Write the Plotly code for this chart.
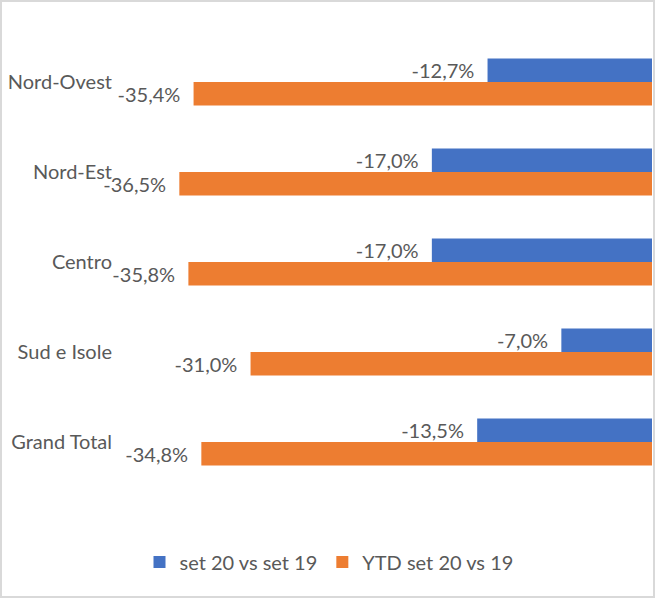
import plotly.graph_objects as go

categories = ["Nord-Ovest", "Nord-Est", "Centro", "Sud e Isole", "Grand Total"]
set20_vs_set19 = [-12.7, -17.0, -17.0, -7.0, -13.5]
ytd_set20_vs_19 = [-35.4, -36.5, -35.8, -31.0, -34.8]
series_names = ["set 20 vs set 19", "YTD set 20 vs 19"]
colors = ["#4472C4", "#ED7D31"]

TEXT = "#595959"
FONT = "Lato"
NB = "\u00a0"


def labels(vals):
    return [f"{v:.1f}%".replace(".", ",") + NB * 2 for v in vals]


fig = go.Figure()
for name, vals, col in zip(series_names, [set20_vs_set19, ytd_set20_vs_19], colors):
    fig.add_trace(go.Bar(
        y=categories, x=vals, name=name, orientation="h",
        marker=dict(color=col, line=dict(width=0)),
        text=labels(vals), textposition="outside", constraintext="none",
        cliponaxis=False,
        textfont=dict(family=FONT, size=20, color=TEXT),
        hoverinfo="skip",
    ))

L, R, T, B = 118, 4, 37, 113
W, H = 656, 600
pw, ph = W - L - R, H - T - B
px_per_unit = 12.95

fig.update_layout(
    width=W, height=H,
    margin=dict(l=L, r=R, t=T, b=B, pad=0),
    paper_bgcolor="white", plot_bgcolor="white",
    barmode="group", bargap=0.478, bargroupgap=0,
    font=dict(family=FONT, size=20, color=TEXT),
    showlegend=True,
    legend=dict(orientation="h", x=(329 - L) / pw, xanchor="center",
                y=(H - B - 562) / ph, yanchor="middle",
                font=dict(family=FONT, size=20, color=TEXT),
                bgcolor="rgba(0,0,0,0)", itemclick=False),
    xaxis=dict(range=[-pw / px_per_unit, 0], showgrid=False, zeroline=False,
               showticklabels=False, showline=False, ticks="", fixedrange=True),
    yaxis=dict(autorange="reversed", showgrid=False, zeroline=False, showline=False,
               ticks="", ticklabelstandoff=5, fixedrange=True,
               tickfont=dict(family=FONT, size=20, color=TEXT)),
    shapes=[dict(type="rect", xref="paper", yref="paper",
                 x0=(1 - L) / pw, x1=(654 - L) / pw,
                 y0=(H - B - 597) / ph, y1=(H - B - 1) / ph,
                 line=dict(color="#D9D9D9", width=2), fillcolor="rgba(0,0,0,0)",
                 layer="above")],
)

fig.write_html("out.html", config={"displayModeBar": False},
               post_script="document.body.style.margin='0';document.body.style.overflow='hidden';")
